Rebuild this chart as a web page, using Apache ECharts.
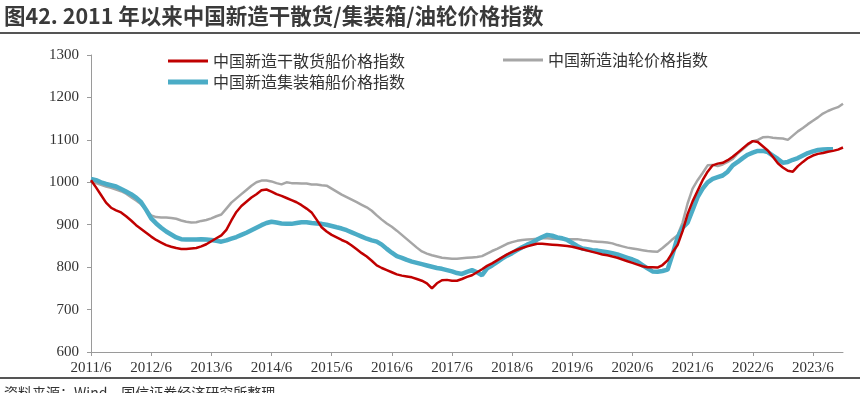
<!DOCTYPE html>
<html>
<head>
<meta charset="utf-8">
<script src="https://cdn.jsdelivr.net/npm/echarts@6/dist/echarts.min.js"></script>
<style>
html,body{margin:0;padding:0;background:#fff;}
#chart{width:860px;height:393px;}
</style>
</head>
<body>
<div id="chart"></div>
<script>
// Monthly categories 2011/6 .. 2023/12
var categories = [];
(function(){
  var y = 2011, m = 6;
  while (y < 2023 || (y === 2023 && m <= 12)) {
    categories.push(y + '/' + m);
    m++; if (m > 12) { m = 1; y++; }
  }
})();

var yTicks = [600, 700, 800, 900, 1000, 1100, 1200, 1300];

var seriesNames = ['中国新造干散货船价格指数', '中国新造集装箱船价格指数', '中国新造油轮价格指数'];

var bulkIndex = [
1005,988,970,952,940,934,929,920,910,899,890,881,872,864,858,852,848,845,843,843,
844,845,849,854,861,868,875,888,910,930,944,954,964,972,981,983,978,972,968,963,
958,953,946,938,929,912,894,884,876,870,864,859,851,842,833,825,815,804,798,793,
788,783,780,778,776,772,768,762,750,762,769,770,768,768,772,777,781,788,795,803,
809,816,823,830,836,841,845,849,852,855,855,854,853,852,851,850,848,845,842,839,
836,833,830,828,825,822,818,814,810,806,802,800,800,799,805,816,835,852,885,925,
955,980,1005,1025,1040,1044,1046,1052,1060,1070,1080,1090,1097,1095,1085,1075,1060,1045,1035,1027,
1025,1038,1048,1057,1063,1067,1069,1072,1074,1077,1082
];

var containerIndex = [
1008,1005,1000,996,993,990,984,978,972,964,953,935,915,903,893,884,877,870,866,865,
865,865,866,865,864,862,860,863,867,871,876,881,887,893,899,904,907,905,903,902,
902,904,906,906,904,903,902,900,897,894,891,887,882,877,872,867,863,860,853,843,
834,826,822,817,813,810,807,804,801,798,796,793,790,786,784,789,793,788,781,797,
804,812,820,827,833,840,847,853,858,865,871,876,874,870,868,864,857,850,844,842,
840,839,837,835,833,830,826,822,818,813,805,797,790,789,791,794,830,870,893,905,
935,965,985,1000,1008,1012,1016,1025,1040,1048,1057,1065,1070,1074,1074,1071,1063,1055,1046,1048,
1053,1057,1063,1069,1073,1076,1077,1078,1078,null,null
];

var tankerIndex = [
1003,998,994,990,987,983,979,973,965,957,948,935,922,918,917,917,916,914,910,907,
905,906,909,911,915,920,924,938,952,962,972,982,992,1000,1004,1004,1002,998,995,1000,
998,998,997,997,995,995,993,992,985,978,971,965,959,953,947,941,933,922,912,903,
895,886,876,866,856,846,837,832,828,825,822,821,820,820,821,822,823,824,826,832,
838,843,849,855,859,862,864,865,866,867,868,868,867,867,866,866,866,866,864,863,
861,860,859,858,856,852,849,846,844,842,840,838,837,836,845,855,866,875,905,950,
985,1005,1022,1040,1041,1038,1042,1048,1055,1068,1078,1088,1097,1100,1106,1107,1105,1104,1103,1100,
1110,1120,1128,1137,1145,1153,1162,1168,1173,1177,1185
];

var colors = {bulk:'#C00000', container:'#4BACC6', tanker:'#A6A6A6'};

var chart = echarts.init(document.getElementById('chart'), null, {renderer:'canvas'});
var serifFont = '"Liberation Serif", "Times New Roman", serif';
var cjkFont = '"Noto Sans CJK SC", sans-serif';

var legendText = {fontFamily: cjkFont, fontSize: 16, color: '#333'};

chart.setOption({
  animation: false,
  backgroundColor: '#fff',
  graphic: [
    {type:'text', left: 4, top: 5, style:{text:'图42. 2011 年以来中国新造干散货/集装箱/油轮价格指数', font:'bold 21.5px "Noto Sans CJK SC", sans-serif', fill:'#3a3a3a'}},
    {type:'line', shape:{x1:0, y1:33, x2:860, y2:33}, style:{stroke:'#555', lineWidth:2}},
    {type:'line', shape:{x1:0, y1:378, x2:860, y2:378}, style:{stroke:'#555', lineWidth:2}},
    {type:'text', left: 4, top: 386, style:{text:'资料来源：Wind，国信证券经济研究所整理', font:'14px "Noto Sans CJK SC", sans-serif', fill:'#333'}}
  ],
  legend: [
    {data:[seriesNames[0]], left:163, top:48, icon:'rect', itemWidth:40, itemHeight:3, textStyle:legendText},
    {data:[seriesNames[1]], left:163, top:69, icon:'rect', itemWidth:40, itemHeight:5, textStyle:legendText},
    {data:[seriesNames[2]], left:498, top:47, icon:'rect', itemWidth:40, itemHeight:3, textStyle:legendText}
  ],
  grid: {left:91, right:17, top:55, bottom:41, containLabel:false},
  xAxis: {
    type:'category', data:categories, boundaryGap:false,
    axisLine:{lineStyle:{color:'#9a9a9a', width:1}},
    axisTick:{interval:11, length:4, lineStyle:{color:'#9a9a9a'}},
    axisLabel:{interval:11, color:'#333', fontFamily:serifFont, fontSize:15, margin:9},
    splitLine:{show:false}
  },
  yAxis: {
    type:'value', min:yTicks[0], max:yTicks[yTicks.length-1], interval:100,
    axisLine:{show:true, lineStyle:{color:'#9a9a9a', width:1}},
    axisTick:{show:true, length:4, lineStyle:{color:'#9a9a9a'}},
    axisLabel:{color:'#333', fontFamily:serifFont, fontSize:15, margin:12,
      formatter:function(v){return String(v);}},
    splitLine:{show:false}
  },
  series: [
    {name:seriesNames[2], type:'line', data:tankerIndex, symbol:'none', smooth:false,
      lineStyle:{color:colors.tanker, width:2.5}, itemStyle:{color:colors.tanker}, z:2},
    {name:seriesNames[1], type:'line', data:containerIndex, symbol:'none', smooth:false,
      lineStyle:{color:colors.container, width:4.5}, itemStyle:{color:colors.container}, z:3},
    {name:seriesNames[0], type:'line', data:bulkIndex, symbol:'none', smooth:false,
      lineStyle:{color:colors.bulk, width:2.5}, itemStyle:{color:colors.bulk}, z:4}
  ]
});
</script>
</body>
</html>
